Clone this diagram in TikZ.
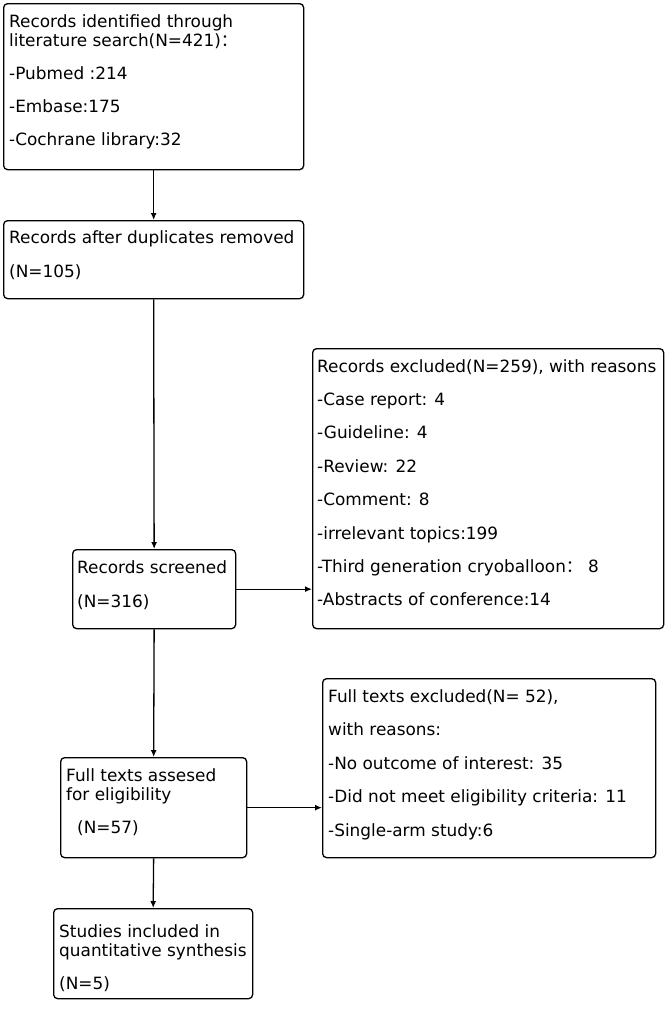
\documentclass[tikz,border=0pt]{standalone}
\usepackage{fontspec}
\setmainfont{DejaVu Sans}
\newfontfamily\cjk{Noto Sans CJK SC}
\usetikzlibrary{arrows.meta,calc}
\tikzset{
  x=1pt,y=-1pt,
  box/.style={draw=black,line width=1.3pt,rounded corners=4pt,anchor=north west,inner sep=0pt},
  txt/.style={anchor=base west,inner sep=0pt,text=black},
  conn/.style={draw=black,line width=1.3pt,-{Latex[length=7pt,width=6pt]}}
}
\newcommand{\boxtext}[1]{\parbox[t]{360pt}{\fontsize{16.9}{19.5}\selectfont #1}}
\begin{document}
\begin{tikzpicture}
\useasboundingbox (0,0) rectangle (665,1010);
% boxes
\node[box,minimum width=300pt,minimum height=166pt] (ident) at (3,3) {};
\node[box,minimum width=300pt,minimum height=78pt] (dup) at (3,220) {};
\node[box,minimum width=163pt,minimum height=79pt] (screen) at (72,549) {};
\node[box,minimum width=351pt,minimum height=280pt] (excl) at (312,348) {};
\node[box,minimum width=186pt,minimum height=100pt] (full) at (60,757) {};
\node[box,minimum width=333pt,minimum height=179pt] (fexcl) at (322,678) {};
\node[box,minimum width=199pt,minimum height=90pt] (incl) at (53,908) {};
% texts
\node[txt] (t1) at (9,27) {\boxtext{Records identified through\\
literature search(N=421){\cjk ：}\\[13.5pt]
-Pubmed :214\\[13.5pt]
-Embase:175\\[13.5pt]
-Cochrane library:32}};
\node[txt] (t2) at (9,243) {\boxtext{Records after duplicates removed\\[14.5pt]
(N=105)}};
\node[txt] (t3) at (317,372) {\boxtext{Records excluded(N=259), with reasons\\[13.9pt]
-Case report: 4\\[13.9pt]
-Guideline: 4\\[13.9pt]
-Review: 22\\[13.9pt]
-Comment: 8\\[13.9pt]
-irrelevant topics:199\\[13.9pt]
-Third generation cryoballoon{\cjk ：}\ 8\\[13.9pt]
-Abstracts of conference:14}};
\node[txt] (t4) at (77,573) {\boxtext{Records screened\\[14.5pt]
(N=316)}};
\node[txt] (t5) at (328,702) {\boxtext{Full texts excluded(N= 52),\\[14pt]
with reasons:\\[14pt]
-No outcome of interest: 35\\[14pt]
-Did not meet eligibility criteria: 11\\[14pt]
-Single-arm study:6}};
\node[txt] (t6) at (66,781) {\boxtext{Full texts assesed\\
for eligibility\\[13.5pt]
\hspace*{11pt}(N=57)}};
\node[txt] (t7) at (59,937) {\boxtext{Studies included in\\
quantitative synthesis\\[13.5pt]
(N=5)}};
% connectors
\draw[conn] (ident.south) -- (dup.north);
\draw[conn] (dup.south) -- (screen.north);
\draw[conn] (screen.east) -- (screen.east -| excl.west);
\draw[conn] (screen.south) -- (full.north);
\draw[conn] (full.east) -- (full.east -| fexcl.west);
\draw[conn] (full.south) -- (incl.north);
\end{tikzpicture}
\end{document}
